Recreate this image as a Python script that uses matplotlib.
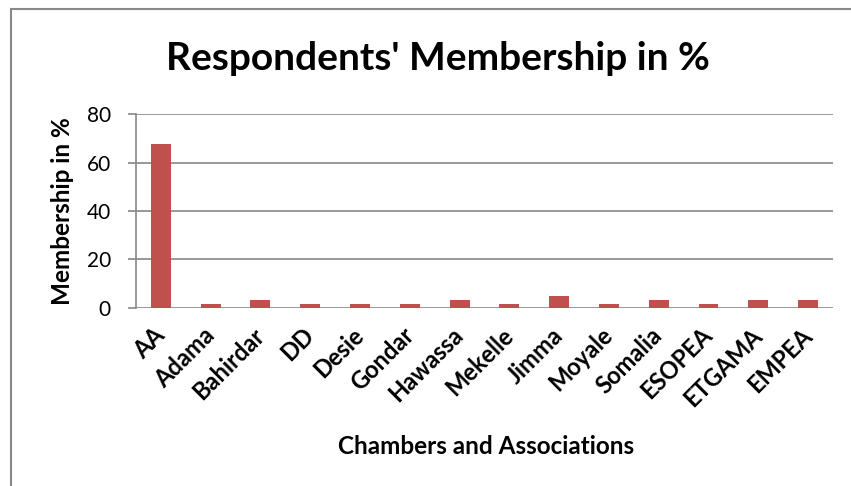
import matplotlib.pyplot as plt
from matplotlib.patches import Rectangle

# data
chambers = ["AA", "Adama", "Bahirdar", "DD", "Desie", "Gondar", "Hawassa",
            "Mekelle", "Jimma", "Moyale", "Somalia", "ESOPEA", "ETGAMA", "EMPEA"]
membership = [67.74, 1.61, 3.23, 1.61, 1.61, 1.61, 3.23,
              1.61, 4.84, 1.61, 3.23, 1.61, 3.23, 3.23]
yticks = [0, 20, 40, 60, 80]

plt.rcParams["font.family"] = ["Lato", "DejaVu Sans"]

fig = plt.figure(figsize=(8.51, 4.86), dpi=100)
ax = fig.add_axes([0.1598, 0.3663, 0.8190, 0.3991])

# chart border
fig.patches.append(Rectangle((11 / 851, -0.1), 1.0, 1 - 9 / 486 + 0.1,
                             transform=fig.transFigure, fill=False,
                             edgecolor="#888888", linewidth=1.5))

x = range(len(chambers))
ax.bar(x, membership, width=0.4, color="#c0504d", zorder=3)

ax.set_xlim(-0.5, len(chambers) - 0.5)
ax.set_ylim(0, 80)
ax.set_yticks(yticks)
ax.set_yticklabels([str(v) for v in yticks], fontsize=15)
ax.grid(axis="y", color="#888888", linewidth=1.2, zorder=0)
ax.tick_params(axis="y", length=6, color="#888888", width=1.2, pad=12)
ax.tick_params(axis="x", length=0, pad=17)

ax.set_xticks(list(x))
ax.set_xticklabels(chambers, rotation=45, ha="right", va="center",
                   rotation_mode="anchor", fontsize=17, fontweight="bold")

for side in ["top", "right", "bottom"]:
    ax.spines[side].set_visible(False)
ax.spines["left"].set_color("#888888")
ax.spines["left"].set_linewidth(1.2)

ax.set_ylabel("Membership in %", fontsize=17.5, fontweight="bold", labelpad=9)
fig.text(486 / 851, 1 - 446 / 486, "Chambers and Associations", ha="center",
         va="center", fontsize=17.5, fontweight="bold")
fig.text(438 / 851, 1 - 58 / 486, "Respondents' Membership in %", ha="center",
         va="center", fontsize=28, fontweight="bold")

fig.savefig("out.png", dpi=100)
